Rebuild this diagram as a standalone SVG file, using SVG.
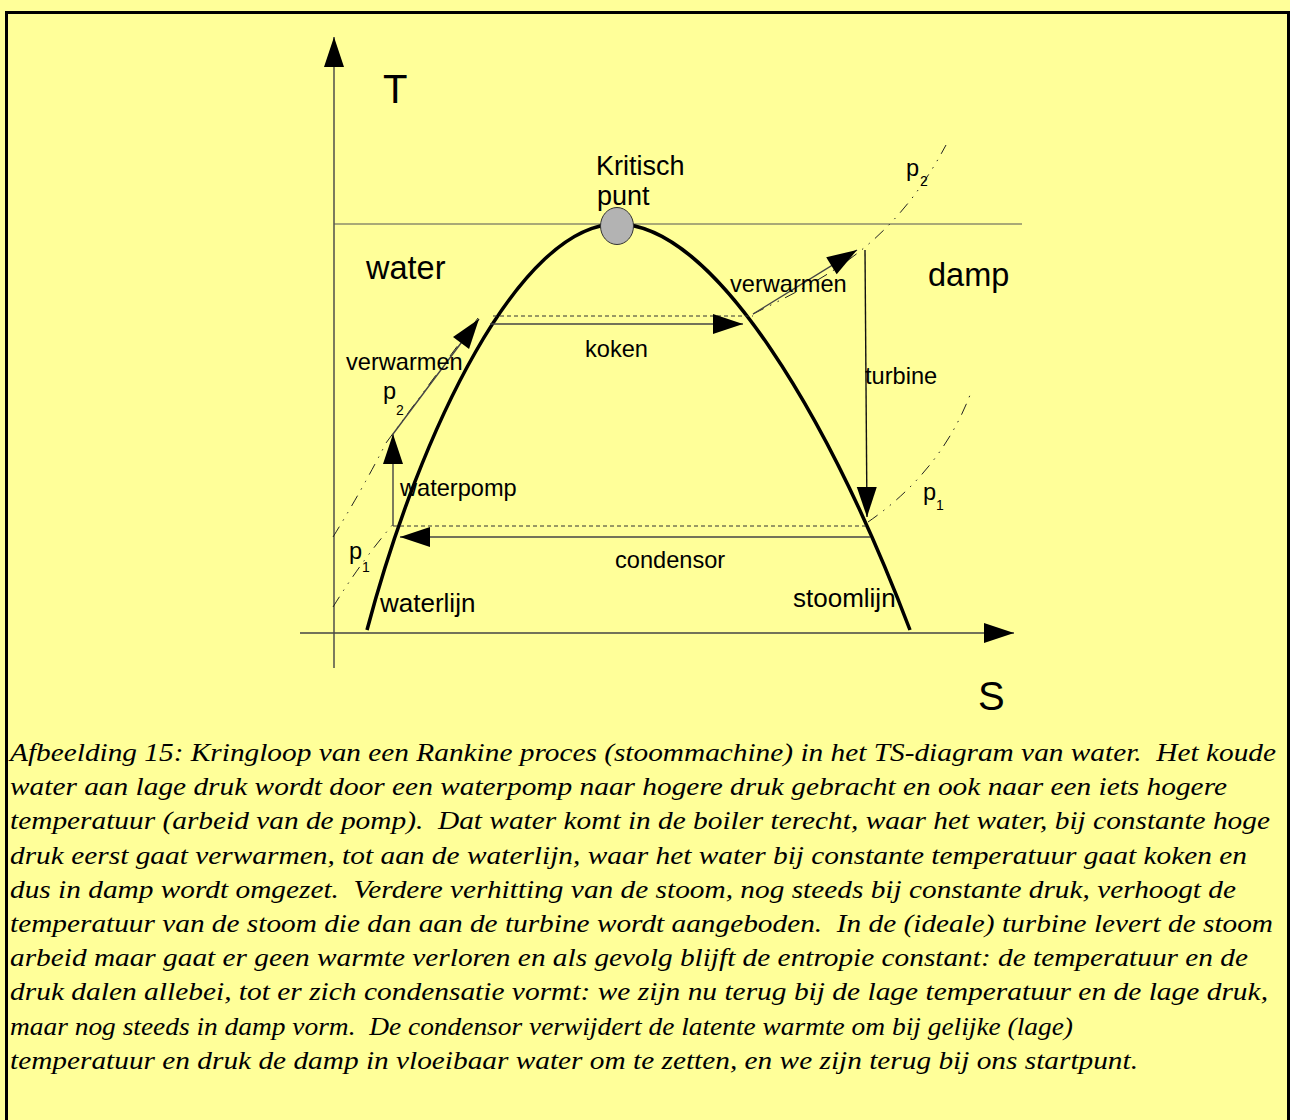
<svg xmlns="http://www.w3.org/2000/svg" width="1290" height="1120" viewBox="0 0 1290 1120">
<defs>
<marker id="ah" markerUnits="userSpaceOnUse" markerWidth="30" markerHeight="20" refX="30" refY="10" orient="auto" overflow="visible">
<path d="M0,0 L30,10 L0,20 z" fill="#000"/>
</marker>
<style>
.lbl{font-family:"Liberation Sans",Arial,sans-serif;fill:#000;}
.s{font-size:23.6px;}
.sub{font-size:14px;}
.thin{fill:none;stroke:#333;stroke-width:1.2;}
.arr{fill:none;stroke:#444;stroke-width:1.4;marker-end:url(#ah);}
.dash{fill:none;stroke:#333;stroke-width:1;stroke-dasharray:4 3;}
.dd{fill:none;stroke:#222;stroke-width:1;stroke-dasharray:12 7 1.5 7 1.5 7;}
.cap{font-family:"Liberation Serif","Times New Roman",serif;font-style:italic;font-size:26px;fill:#000;white-space:pre;}
</style>
</defs>
<rect x="0" y="0" width="1290" height="1120" fill="#ffff99"/>
<rect x="6.5" y="12.5" width="1282" height="1130" fill="#ffff99" stroke="#000" stroke-width="3"/>

<g id="connectors">
<line id="axis-T" class="arr" x1="334" y1="668" x2="334" y2="37"/>
<line id="axis-S" class="arr" x1="300" y1="633" x2="1014" y2="633"/>
<line id="critical-line" class="thin" x1="334" y1="224" x2="1022" y2="224" style="stroke:#555"/>
<path id="dome" d="M367,630 C420,430 520,224 617,224 C715,224 830,420 910,630" fill="none" stroke="#000" stroke-width="3.5"/>
<path id="p1-left" class="dd" d="M333,607 Q362,560 395,522"/>
<path id="p2-left" class="dd" d="M333,537 Q362,490 386,443 L478,318"/>
<path id="p2-right" class="dd" d="M753,314 C820,280 890,250 946,145"/>
<path id="p1-right" class="dd" d="M868,522 C900,500 945,460 970,395"/>
<line id="koken-dash" class="dash" x1="493" y1="316" x2="753" y2="316"/>
<line id="condensor-dash" class="dash" x1="393" y1="526" x2="868" y2="526"/>
<line id="waterpomp" class="arr" x1="393" y1="526" x2="393" y2="434"/>
<line id="verwarmen-l" class="arr" x1="393" y1="434" x2="479" y2="319"/>
<line id="koken" class="arr" x1="490" y1="324" x2="743" y2="324"/>
<line id="verwarmen-r" class="arr" x1="753" y1="314" x2="857" y2="250"/>
<line id="turbine" class="arr" x1="865" y1="250" x2="867" y2="517" style="stroke:#111"/>
<line id="condensor" class="arr" x1="870" y1="537" x2="400" y2="537"/>
</g>

<g id="kritisch-punt">
<ellipse cx="617" cy="226" rx="16.5" ry="18.5" fill="#b3b3b3" stroke="#333" stroke-width="1"/>
<text class="lbl" x="596" y="175" font-size="27">Kritisch</text>
<text class="lbl" x="597" y="205" font-size="27">punt</text>
</g>
<g id="label-T"><text class="lbl" x="383" y="103" font-size="40">T</text></g>
<g id="label-S"><text class="lbl" x="978" y="710" font-size="40">S</text></g>
<g id="label-water"><text class="lbl" x="366" y="279" font-size="32.5">water</text></g>
<g id="label-damp"><text class="lbl" x="928" y="286" font-size="32.5">damp</text></g>
<g id="label-verwarmen-r"><text class="lbl s" x="730" y="292">verwarmen</text></g>
<g id="label-koken"><text class="lbl s" x="585" y="357">koken</text></g>
<g id="label-verwarmen-l"><text class="lbl s" x="346" y="370">verwarmen</text></g>
<g id="label-p2-left"><text class="lbl s" x="383" y="399">p</text><text class="lbl sub" x="396" y="415">2</text></g>
<g id="label-turbine"><text class="lbl s" x="865" y="384">turbine</text></g>
<g id="label-waterpomp"><text class="lbl s" x="400" y="496">waterpomp</text></g>
<g id="label-p1-right"><text class="lbl s" x="923" y="500">p</text><text class="lbl sub" x="936" y="510">1</text></g>
<g id="label-condensor"><text class="lbl s" x="615" y="568">condensor</text></g>
<g id="label-p1-left"><text class="lbl s" x="349" y="559">p</text><text class="lbl sub" x="362" y="572">1</text></g>
<g id="label-p2-right"><text class="lbl s" x="906" y="176">p</text><text class="lbl sub" x="920" y="186">2</text></g>
<g id="label-waterlijn"><text class="lbl" x="380" y="612" font-size="26">waterlijn</text></g>
<g id="label-stoomlijn"><text class="lbl" x="793" y="607" font-size="26">stoomlijn</text></g>

<g id="caption">
<text class="cap" x="10" y="761" textLength="1266" lengthAdjust="spacingAndGlyphs">Afbeelding 15: Kringloop van een Rankine proces (stoommachine) in het TS-diagram van water.  Het koude</text>
<text class="cap" x="10" y="795.2" textLength="1217" lengthAdjust="spacingAndGlyphs">water aan lage druk wordt door een waterpomp naar hogere druk gebracht en ook naar een iets hogere</text>
<text class="cap" x="10" y="829.4" textLength="1260" lengthAdjust="spacingAndGlyphs">temperatuur (arbeid van de pomp).  Dat water komt in de boiler terecht, waar het water, bij constante hoge</text>
<text class="cap" x="10" y="863.6" textLength="1237" lengthAdjust="spacingAndGlyphs">druk eerst gaat verwarmen, tot aan de waterlijn, waar het water bij constante temperatuur gaat koken en</text>
<text class="cap" x="10" y="897.8" textLength="1226" lengthAdjust="spacingAndGlyphs">dus in damp wordt omgezet.  Verdere verhitting van de stoom, nog steeds bij constante druk, verhoogt de</text>
<text class="cap" x="10" y="932" textLength="1263" lengthAdjust="spacingAndGlyphs">temperatuur van de stoom die dan aan de turbine wordt aangeboden.  In de (ideale) turbine levert de stoom</text>
<text class="cap" x="10" y="966.2" textLength="1238" lengthAdjust="spacingAndGlyphs">arbeid maar gaat er geen warmte verloren en als gevolg blijft de entropie constant: de temperatuur en de</text>
<text class="cap" x="10" y="1000.4" textLength="1258" lengthAdjust="spacingAndGlyphs">druk dalen allebei, tot er zich condensatie vormt: we zijn nu terug bij de lage temperatuur en de lage druk,</text>
<text class="cap" x="10" y="1034.6" textLength="1063" lengthAdjust="spacingAndGlyphs">maar nog steeds in damp vorm.  De condensor verwijdert de latente warmte om bij gelijke (lage)</text>
<text class="cap" x="10" y="1068.8" textLength="1128" lengthAdjust="spacingAndGlyphs">temperatuur en druk de damp in vloeibaar water om te zetten, en we zijn terug bij ons startpunt.</text>
</g>
</svg>
